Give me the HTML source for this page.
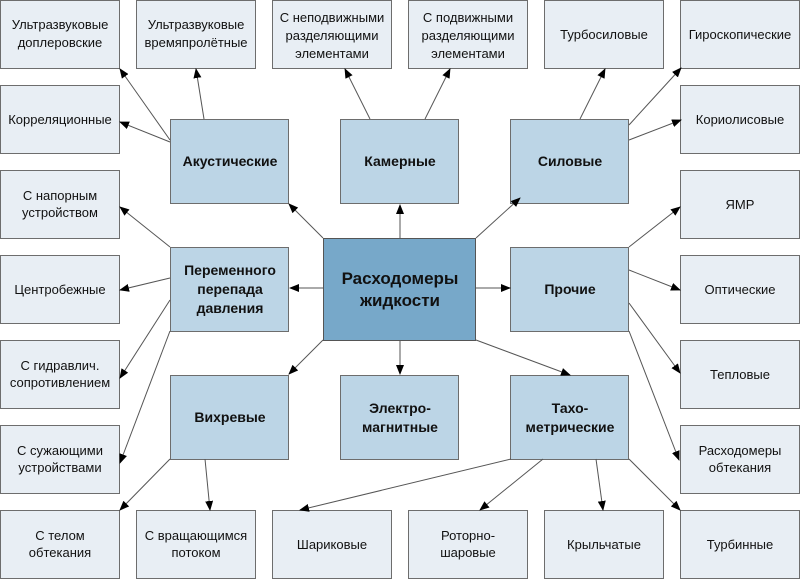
<!DOCTYPE html>
<html><head><meta charset="utf-8"><style>
body{margin:0;background:#fff;}
svg text{font-family:"Liberation Sans","DejaVu Sans",sans-serif;}
</style></head><body>
<svg width="800" height="579" viewBox="0 0 800 579" xmlns="http://www.w3.org/2000/svg">
<defs><marker id="a" markerWidth="10" markerHeight="8" refX="9" refY="4" orient="auto" markerUnits="userSpaceOnUse"><path d="M0,0 L10,4 L0,8 z" fill="#000"/></marker></defs>
<g fill="#e8eef4" stroke="#6d6d6d" stroke-width="1">
<rect x="0.5" y="0.5" width="119" height="68"/><rect x="136.5" y="0.5" width="119" height="68"/><rect x="272.5" y="0.5" width="119" height="68"/><rect x="408.5" y="0.5" width="119" height="68"/><rect x="544.5" y="0.5" width="119" height="68"/><rect x="680.5" y="0.5" width="119" height="68"/>
<rect x="0.5" y="85.5" width="119" height="68"/><rect x="0.5" y="170.5" width="119" height="68"/><rect x="0.5" y="255.5" width="119" height="68"/><rect x="0.5" y="340.5" width="119" height="68"/><rect x="0.5" y="425.5" width="119" height="68"/>
<rect x="680.5" y="85.5" width="119" height="68"/><rect x="680.5" y="170.5" width="119" height="68"/><rect x="680.5" y="255.5" width="119" height="68"/><rect x="680.5" y="340.5" width="119" height="68"/><rect x="680.5" y="425.5" width="119" height="68"/>
<rect x="0.5" y="510.5" width="119" height="68"/><rect x="136.5" y="510.5" width="119" height="68"/><rect x="272.5" y="510.5" width="119" height="68"/><rect x="408.5" y="510.5" width="119" height="68"/><rect x="544.5" y="510.5" width="119" height="68"/><rect x="680.5" y="510.5" width="119" height="68"/>
</g>
<g fill="#bcd5e6" stroke="#6d6d6d">
<rect x="170.5" y="119.5" width="118" height="84"/><rect x="340.5" y="119.5" width="118" height="84"/><rect x="510.5" y="119.5" width="118" height="84"/>
<rect x="170.5" y="247.5" width="118" height="84"/><rect x="510.5" y="247.5" width="118" height="84"/>
<rect x="170.5" y="375.5" width="118" height="84"/><rect x="340.5" y="375.5" width="118" height="84"/><rect x="510.5" y="375.5" width="118" height="84"/>
</g>
<rect x="323.5" y="238.5" width="152" height="102" fill="#77a8c9" stroke="#555"/>
<g stroke="#555" stroke-width="1" fill="none" marker-end="url(#a)">
<line x1="170" y1="140" x2="120" y2="69"/><line x1="204" y1="119" x2="196" y2="69"/><line x1="170" y1="142" x2="120" y2="122"/>
<line x1="370" y1="119" x2="345" y2="69"/><line x1="425" y1="119" x2="450" y2="69"/>
<line x1="580" y1="119" x2="605" y2="69"/><line x1="629" y1="125" x2="681" y2="68"/><line x1="629" y1="140" x2="681" y2="120"/>
<line x1="170" y1="247" x2="120" y2="207"/><line x1="170" y1="278" x2="120" y2="290"/><line x1="170" y1="300" x2="120" y2="378"/><line x1="170" y1="331" x2="120" y2="463"/>
<line x1="170" y1="459" x2="120" y2="510"/><line x1="205" y1="459" x2="210" y2="510"/>
<line x1="511" y1="459" x2="300" y2="510"/><line x1="543" y1="459" x2="480" y2="510"/><line x1="596" y1="459" x2="603" y2="510"/><line x1="629" y1="459" x2="680" y2="510"/>
<line x1="629" y1="247" x2="680" y2="207"/><line x1="629" y1="270" x2="680" y2="290"/><line x1="629" y1="303" x2="680" y2="373"/><line x1="629" y1="331" x2="679" y2="460"/>
<line x1="400" y1="238" x2="400" y2="205"/><line x1="476" y1="238" x2="520" y2="198"/><line x1="476" y1="288" x2="510" y2="288"/><line x1="476" y1="340" x2="570" y2="375"/>
<line x1="400" y1="340" x2="400" y2="374"/><line x1="323" y1="340" x2="289" y2="374"/><line x1="323" y1="288" x2="290" y2="288"/><line x1="323" y1="238" x2="289" y2="204"/>
</g>
<g font-size="13" fill="#111" text-anchor="middle">
<text x="60" y="29">Ультразвуковые</text><text x="60" y="47">доплеровские</text>
<text x="196" y="29">Ультразвуковые</text><text x="196" y="47">времяпролётные</text>
<text x="332" y="22">С неподвижными</text><text x="332" y="40">разделяющими</text><text x="332" y="58">элементами</text>
<text x="468" y="22">С подвижными</text><text x="468" y="40">разделяющими</text><text x="468" y="58">элементами</text>
<text x="604" y="39">Турбосиловые</text><text x="740" y="39">Гироскопические</text>
<text x="60" y="124">Корреляционные</text>
<text x="60" y="200">С напорным</text><text x="60" y="217">устройством</text>
<text x="60" y="294">Центробежные</text>
<text x="60" y="370">С гидравлич.</text><text x="60" y="387">сопротивлением</text>
<text x="60" y="455">С сужающими</text><text x="60" y="472">устройствами</text>
<text x="740" y="124">Кориолисовые</text><text x="740" y="209">ЯМР</text><text x="740" y="294">Оптические</text><text x="740" y="379">Тепловые</text>
<text x="740" y="455">Расходомеры</text><text x="740" y="472">обтекания</text>
<text x="60" y="540">С телом</text><text x="60" y="557">обтекания</text>
<text x="196" y="540">С вращающимся</text><text x="196" y="557">потоком</text>
<text x="332" y="549">Шариковые</text>
<text x="468" y="540">Роторно-</text><text x="468" y="557">шаровые</text>
<text x="604" y="549">Крыльчатые</text><text x="740" y="549">Турбинные</text>
</g>
<g font-size="14" font-weight="bold" fill="#111" text-anchor="middle">
<text x="230" y="166">Акустические</text><text x="400" y="166">Камерные</text><text x="570" y="166">Силовые</text>
<text x="230" y="275">Переменного</text><text x="230" y="294">перепада</text><text x="230" y="313">давления</text>
<text x="570" y="294">Прочие</text>
<text x="230" y="422">Вихревые</text>
<text x="400" y="413">Электро-</text><text x="400" y="432">магнитные</text>
<text x="570" y="413">Тахо-</text><text x="570" y="432">метрические</text>
</g>
<g font-size="17" font-weight="bold" fill="#111" text-anchor="middle">
<text x="400" y="284">Расходомеры</text><text x="400" y="306">жидкости</text>
</g>
</svg>
</body></html>
